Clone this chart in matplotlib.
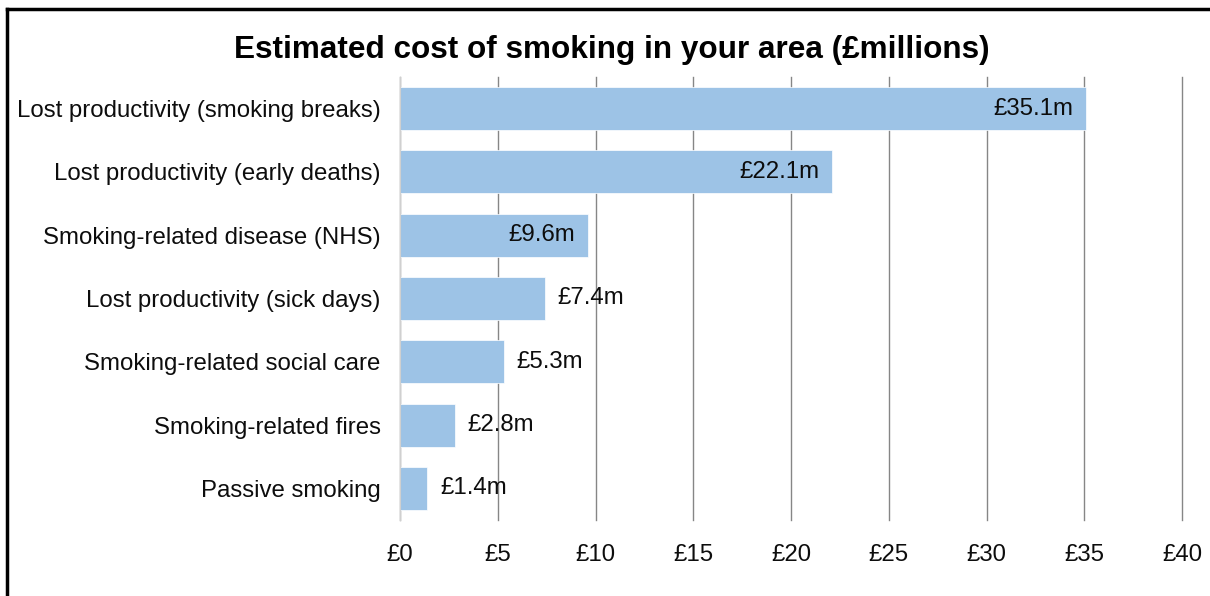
import matplotlib.pyplot as plt

# Data
categories = ['Lost productivity (smoking breaks)', 'Lost productivity (early deaths)',
              'Smoking-related disease (NHS)', 'Lost productivity (sick days)',
              'Smoking-related social care', 'Smoking-related fires', 'Passive smoking']
costs = [35.1, 22.1, 9.6, 7.4, 5.3, 2.8, 1.4]
x_ticks = [0, 5, 10, 15, 20, 25, 30, 35, 40]

plt.rcParams['font.family'] = ['Liberation Sans', 'DejaVu Sans']

fig = plt.figure(figsize=(12.1, 5.96), dpi=100)
ax = fig.add_axes([400 / 1210, 1 - 520 / 596, 782 / 1210, 443 / 596])

ypos = list(range(len(categories)))
ax.barh(ypos, costs, height=0.68, color='#9DC3E6', edgecolor='white', linewidth=0.5, zorder=2)
ax.set_ylim(len(categories) - 0.5, -0.5)
ax.set_xlim(0, 40)

# value labels: inside end for the long bars, outside end for the rest
for y, v in zip(ypos, costs):
    if v > 9:
        ax.text(v - 0.65, y, f'£{v}m', ha='right', va='center', fontsize=17.3, color='#0d0d0d', zorder=3)
    else:
        ax.text(v + 0.65, y, f'£{v}m', ha='left', va='center', fontsize=17.3, color='#0d0d0d', zorder=3)

ax.set_yticks(ypos)
ax.set_yticklabels(categories, fontsize=17.3, color='#0d0d0d')
ax.set_xticks(x_ticks)
ax.set_xticklabels([f'£{t}' for t in x_ticks], fontsize=17.3, color='#0d0d0d')
ax.tick_params(length=0)
ax.tick_params(axis='y', pad=14)
ax.tick_params(axis='x', pad=17)
ax.xaxis.grid(True, color='#868686', linewidth=1, zorder=0)
for line in ax.get_xgridlines():
    line.set_clip_on(False)
for s in ['top', 'right', 'bottom']:
    ax.spines[s].set_visible(False)
ax.spines['left'].set_color('#d0d0d0')

fig.text(612 / 1210, 1 - 50 / 596, 'Estimated cost of smoking in your area (£millions)',
         ha='center', va='center', fontsize=22.7, fontweight='bold', color='#000000')

# frame lines on the top and left edge
fig.add_artist(plt.Line2D([7 / 1210, 1], [1 - 9 / 596, 1 - 9 / 596], color='black', linewidth=2.5))
fig.add_artist(plt.Line2D([7 / 1210, 7 / 1210], [0, 1 - 9 / 596], color='black', linewidth=2.5))

fig.savefig('out.png', dpi=100)
